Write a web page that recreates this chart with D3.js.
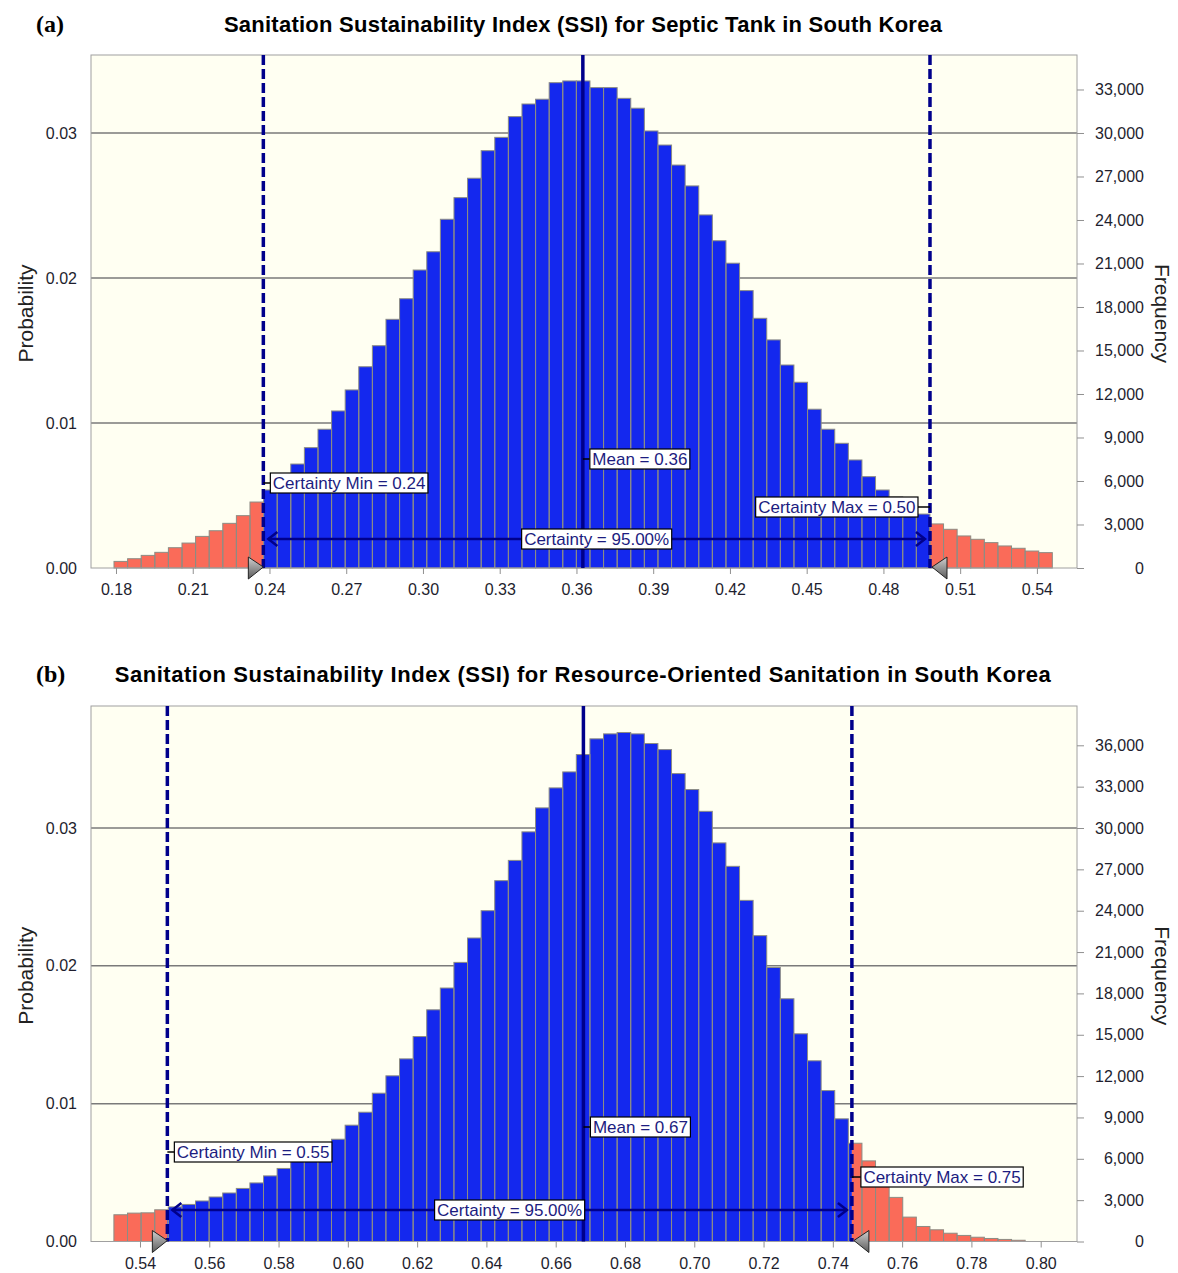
<!DOCTYPE html>
<html>
<head>
<meta charset="utf-8">
<script src="https://cdnjs.cloudflare.com/ajax/libs/d3/7.8.5/d3.min.js"></script>
<style>
body { margin: 0; background: #fff; }
text { font-family: "Liberation Sans", Arial, sans-serif; }
</style>
</head>
<body>
<script>
// number of Monte Carlo trials (frequency = probability * trials)
const trials = 1000000;

// ---- (a) septic tank
const binStartA = 0.17922;
const binWidthA = 0.005316;
const freqA = [455, 640, 870, 1080, 1400, 1720, 2180, 2570, 3080, 3610,
  4550, 5380, 6210, 7170, 8300, 9570, 10830, 12280, 13880, 15330,
  17150, 18570, 20550, 21810, 24050, 25540, 26880, 28780, 29700, 31130,
  32000, 32330, 33470, 33590, 33590, 33130, 33130, 32390, 31710, 30140,
  29170, 27790, 26350, 24350, 22570, 21020, 19130, 17220, 15730, 14000,
  12810, 10950, 9570, 8600, 7450, 6300, 5380, 4900, 4280, 3720,
  3040, 2670, 2210, 1980, 1750, 1520, 1360, 1170, 1060];
const statsA = [0.3625, 0.2376, 0.4982];   // mean, certainty min, certainty max
const labelsA = ["Mean = 0.36", "Certainty Min = 0.24", "Certainty Max = 0.50", "Certainty = 95.00%"];
const xTicksA = [0.18, 0.21, 0.24, 0.27, 0.30, 0.33, 0.36, 0.39, 0.42, 0.45, 0.48, 0.51, 0.54];
const freqTicksA = [0, 3000, 6000, 9000, 12000, 15000, 18000, 21000, 24000, 27000, 30000, 33000];

// ---- (b) resource-oriented sanitation
const binStartB = 0.53247;
const binWidthB = 0.003926;
const freqB = [1940, 2060, 2080, 2300, 2510, 2690, 2940, 3230, 3520, 3850,
  4250, 4760, 5300, 5810, 6320, 6830, 7420, 8440, 9380, 10760,
  12020, 13250, 14870, 16810, 18390, 20250, 22020, 24000, 26180, 27650,
  29720, 31460, 32910, 34070, 35330, 36470, 36830, 36930, 36830, 36130,
  35690, 33950, 32790, 31210, 28920, 27220, 24750, 22190, 19880, 17610,
  15070, 13110, 10950, 8900, 7130, 5850, 4500, 3200, 1770, 1090,
  850, 600, 440, 310, 220, 150, 90];
const statsB = [0.668, 0.5479, 0.7455];
const labelsB = ["Mean = 0.67", "Certainty Min = 0.55", "Certainty Max = 0.75", "Certainty = 95.00%"];
const xTicksB = [0.54, 0.56, 0.58, 0.60, 0.62, 0.64, 0.66, 0.68, 0.70, 0.72, 0.74, 0.76, 0.78, 0.80];
const freqTicksB = [0, 3000, 6000, 9000, 12000, 15000, 18000, 21000, 24000, 27000, 30000, 33000, 36000];

const probTicks = [0, 0.01, 0.02, 0.03];

const blue = "#1428ee", red = "#fa6b59", navy = "#00008b";

var svg = d3.select("body").append("svg")
    .attr("width", 1178)
    .attr("height", 1273);

var grad = svg.append("defs").append("linearGradient")
    .attr("id", "tri").attr("x1", 0).attr("y1", 0).attr("x2", 0).attr("y2", 1);
grad.append("stop").attr("offset", 0).attr("stop-color", "#d0d0d0");
grad.append("stop").attr("offset", 1).attr("stop-color", "#5a5a5a");

function drawPanel(p) {
    const x = d3.scaleLinear().domain(p.xDomain).range([91, 1077]);
    const y = d3.scaleLinear().domain([0, p.yMax]).range([p.bottom, p.top]);
    const yF = d3.scaleLinear().domain([0, p.yMax * trials]).range([p.bottom, p.top]);
    const g = svg.append("g");

    // titles
    g.append("text").attr("x", 36).attr("y", p.titleY)
        .style("font-family", "'Liberation Serif', serif")
        .style("font-weight", "bold").style("font-size", "24px")
        .text(p.tag);
    g.append("text").attr("x", 583).attr("y", p.titleY)
        .attr("text-anchor", "middle")
        .style("font-weight", "bold").style("font-size", "22px")
        .style("letter-spacing", p.titleSpacing)
        .text(p.title);

    // plot area
    g.append("rect")
        .attr("x", 91).attr("y", p.top)
        .attr("width", 986).attr("height", p.bottom - p.top)
        .attr("fill", "#fffff2");

    g.selectAll(".grid").data(probTicks.slice(1)).enter().append("line")
        .attr("x1", 91).attr("x2", 1077)
        .attr("y1", d => y(d)).attr("y2", d => y(d))
        .attr("stroke", "#7a7a7a").attr("stroke-width", 1.5);

    // bars, split in colour at the certainty bounds
    const bins = p.freq.map((f, i) => ({
        x0: p.binStart + i * p.binWidth,
        x1: p.binStart + (i + 1) * p.binWidth,
        prob: f / trials
    }));
    const lo = p.stats[1], hi = p.stats[2];
    const segs = [];
    bins.forEach(b => {
        if (b.x0 < lo) segs.push({a: b.x0, b: Math.min(b.x1, lo), prob: b.prob, c: red});
        if (b.x1 > lo && b.x0 < hi) segs.push({a: Math.max(b.x0, lo), b: Math.min(b.x1, hi), prob: b.prob, c: blue});
        if (b.x1 > hi) segs.push({a: Math.max(b.x0, hi), b: b.x1, prob: b.prob, c: red});
    });
    g.selectAll(".seg").data(segs).enter().append("rect")
        .attr("x", d => x(d.a)).attr("width", d => x(d.b) - x(d.a))
        .attr("y", d => y(d.prob)).attr("height", d => y(0) - y(d.prob))
        .attr("fill", d => d.c);
    g.selectAll(".bar").data(bins).enter().append("rect")
        .attr("x", d => x(d.x0)).attr("width", d => x(d.x1) - x(d.x0))
        .attr("y", d => y(d.prob)).attr("height", d => y(0) - y(d.prob))
        .attr("fill", "none").attr("stroke", "#8c8c84").attr("stroke-width", 1);

    // frame
    g.append("rect")
        .attr("x", 91).attr("y", p.top)
        .attr("width", 986).attr("height", p.bottom - p.top)
        .attr("fill", "none").attr("stroke", "#a0a0a0");

    // axes
    const xa = g.append("g").attr("transform", "translate(0," + p.bottom + ")")
        .call(d3.axisBottom(x).tickValues(p.xTicks).tickSize(6).tickPadding(10).tickFormat(d3.format(".2f")));
    const ya = g.append("g").attr("transform", "translate(91,0)")
        .call(d3.axisLeft(y).tickValues(probTicks).tickSize(0).tickPadding(14).tickFormat(d3.format(".2f")));
    const yr = g.append("g").attr("transform", "translate(1077,0)")
        .call(d3.axisRight(yF).tickValues(p.freqTicks).tickSize(7).tickFormat(d3.format(",")));
    yr.selectAll("text").attr("text-anchor", "end").attr("x", 67);
    [xa, ya, yr].forEach(a => {
        a.select(".domain").remove();
        a.selectAll("line").attr("stroke", "#909090");
        a.selectAll("text").style("font-size", "16px").attr("fill", "#1e1e2e")
            .style("font-family", "'Liberation Sans', Arial, sans-serif");
    });

    const midY = (p.top + p.bottom) / 2 + 2;
    g.append("text")
        .attr("transform", "translate(33," + midY + ") rotate(-90)")
        .attr("text-anchor", "middle").style("font-size", "21px").attr("fill", "#222")
        .text("Probability");
    g.append("text")
        .attr("transform", "translate(1155," + midY + ") rotate(90)")
        .attr("text-anchor", "middle").style("font-size", "21px").attr("fill", "#222")
        .text("Frequency");

    // mean and certainty lines
    const xm = x(p.stats[0]), xl = x(lo), xh = x(hi);
    g.append("line").attr("x1", xm).attr("x2", xm).attr("y1", p.top).attr("y2", p.bottom)
        .attr("stroke", navy).attr("stroke-width", 3.5);
    [xl, xh].forEach(v => {
        g.append("line").attr("x1", v).attr("x2", v).attr("y1", p.top).attr("y2", p.bottom)
            .attr("stroke", navy).attr("stroke-width", 3.5).attr("stroke-dasharray", "10,4");
    });

    // certainty arrow
    const ay = p.arrowY;
    const a0 = xl + 5, a1 = xh - 5;
    g.append("line").attr("x1", a0).attr("x2", a1).attr("y1", ay).attr("y2", ay)
        .attr("stroke", navy).attr("stroke-width", 2.5);
    g.append("path").attr("d", `M${a0 + 9},${ay - 7}L${a0},${ay}L${a0 + 9},${ay + 7}`)
        .attr("fill", "none").attr("stroke", navy).attr("stroke-width", 2.5);
    g.append("path").attr("d", `M${a1 - 9},${ay - 7}L${a1},${ay}L${a1 - 9},${ay + 7}`)
        .attr("fill", "none").attr("stroke", navy).attr("stroke-width", 2.5);

    // label boxes
    function label(txt, lx, cy, anchor, tickFrom) {
        const t = g.append("text").attr("y", cy + 6).style("font-size", "17px")
            .attr("fill", "#1c1c80").text(txt);
        const w = t.node().getComputedTextLength() + 5;
        let bx = anchor === "start" ? lx : anchor === "end" ? lx - w : lx - w / 2;
        t.attr("x", bx + 2.5);
        if (tickFrom !== null) {
            const ex = anchor === "end" ? bx + w : bx;
            g.insert("line", () => t.node()).attr("x1", tickFrom).attr("x2", ex)
                .attr("y1", cy).attr("y2", cy).attr("stroke", "#000").attr("stroke-width", 1.5);
        }
        g.insert("rect", () => t.node()).attr("x", bx).attr("y", cy - 10)
            .attr("width", w).attr("height", 20)
            .attr("fill", "#fff").attr("stroke", "#000").attr("stroke-width", 1.2);
    }
    label(p.labels[0], xm + 7, p.meanY, "start", xm);
    label(p.labels[1], xl + 7, p.minY, "start", xl);
    if (p.maxSide === "left") label(p.labels[2], xh - 12, p.maxY, "end", xh);
    else label(p.labels[2], xh + 9, p.maxY, "start", xh);
    label(p.labels[3], (a0 + a1) / 2, ay, "middle", null);

    // certainty grabbers
    const by = p.bottom;
    g.append("path").attr("d", `M${xl - 15},${by - 11}L${xl},${by - 1}L${xl - 15},${by + 11}Z`)
        .attr("fill", "url(#tri)").attr("stroke", "#222").attr("stroke-width", 1);
    g.append("path").attr("d", `M${xh + 17},${by - 11}L${xh + 2},${by - 1}L${xh + 17},${by + 11}Z`)
        .attr("fill", "url(#tri)").attr("stroke", "#222").attr("stroke-width", 1);
}

drawPanel({
    tag: "(a)",
    title: "Sanitation Sustainability Index (SSI) for Septic Tank in South Korea",
    titleSpacing: "0.25px",
    titleY: 32, top: 55, bottom: 568,
    xDomain: [0.17023, 0.55567], yMax: 0.035379,
    binStart: binStartA, binWidth: binWidthA, freq: freqA,
    stats: statsA, labels: labelsA, xTicks: xTicksA, freqTicks: freqTicksA,
    meanY: 459, minY: 483, maxY: 507, maxSide: "left", arrowY: 539
});

drawPanel({
    tag: "(b)",
    title: "Sanitation Sustainability Index (SSI) for Resource-Oriented Sanitation in South Korea",
    titleSpacing: "0.55px",
    titleY: 682, top: 706, bottom: 1241.5,
    xDomain: [0.52586, 0.81048], yMax: 0.038852,
    binStart: binStartB, binWidth: binWidthB, freq: freqB,
    stats: statsB, labels: labelsB, xTicks: xTicksB, freqTicks: freqTicksB,
    meanY: 1127, minY: 1152, maxY: 1177, maxSide: "right", arrowY: 1210
});
</script>
</body>
</html>
